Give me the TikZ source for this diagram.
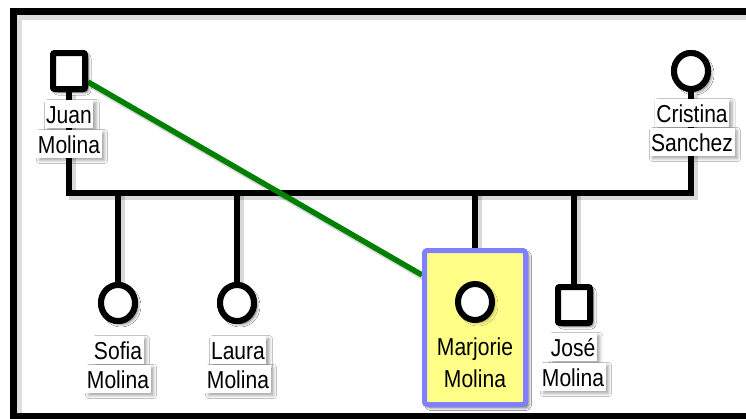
\documentclass[tikz,border=0pt]{standalone}
\usepackage{fontspec}
\setmainfont{Liberation Sans}[FakeStretch=0.86]
\usetikzlibrary{shapes.geometric,shadows.blur,calc}
\definecolor{hlyellow}{RGB}{255,255,136}
\definecolor{hlblue}{RGB}{128,128,255}
\definecolor{linkgreen}{RGB}{0,128,0}
\tikzset{
  soft/.style={blur shadow={shadow xshift=3pt,shadow yshift=-3pt,shadow blur radius=3pt,shadow opacity=35}},
  tree/.style={line width=6pt,black},
  treeshadow/.style={line width=7pt,black,opacity=0.15,transform canvas={shift={(3pt,-3pt)}}},
  male/.style={draw,line width=6pt,fill=white,minimum width=32pt,minimum height=36pt,inner sep=0pt,rounded corners=2pt,soft},
  female/.style={draw,ellipse,line width=6pt,fill=white,minimum width=34pt,minimum height=36pt,inner sep=0pt,soft},
  lab/.style={fill=white,anchor=base,inner xsep=1.5pt,inner ysep=1.5pt,text height=22pt,text depth=3pt,font=\fontsize{24.5}{25}\selectfont,soft},
  labplain/.style={anchor=base,inner sep=0pt,font=\fontsize{24.5}{25}\selectfont},
  hlbox/.style={draw=hlblue,fill=hlyellow,line width=5pt,minimum width=101pt,minimum height=154pt,rounded corners=3pt,soft}
}
\begin{document}
\begin{tikzpicture}[x=1pt,y=-1pt]
\useasboundingbox (0,0) rectangle (746,418);
\clip (0,0) rectangle (746,418);
\fill[white] (0,0) rectangle (746,418);
% frame
\draw[line width=9pt,black!25,opacity=0.5,transform canvas={shift={(4pt,-4pt)}}] (13.5,11.5) rectangle (770,416.5);
\draw[line width=7pt] (13.5,11.5) rectangle (770,416.5);
% coordinates
\coordinate (bar) at (0,193);
% highlight box (behind Marjorie)
\node[hlbox] (mbox) at (475,327.5) {};
% persons
\node[male] (juan) at (69,71) {};
\node[female] (cristina) at (691,71) {};
\node[female] (sofia) at (118,303) {};
\node[female] (laura) at (237,303) {};
\node[female] (marjorie) at (475,302) {};
\node[male] (jose) at (574,305) {};
% tree shadows
\draw[treeshadow] (juan.south) -- (juan.south |- bar) -- (cristina.south |- bar) -- (cristina.south);
\draw[treeshadow] (sofia.north |- bar) -- (sofia.north);
\draw[treeshadow] (laura.north |- bar) -- (laura.north);
\draw[treeshadow] (mbox.north |- bar) -- (mbox.north);
\draw[treeshadow] (jose.north |- bar) -- (jose.north);
% tree lines
\draw[tree] (juan.south) -- (juan.south |- bar) -- (cristina.south |- bar) -- (cristina.south);
\draw[tree] (sofia.north |- bar) -- (sofia.north);
\draw[tree] (laura.north |- bar) -- (laura.north);
\draw[tree] (mbox.north |- bar) -- (mbox.north);
\draw[tree] (jose.north |- bar) -- (jose.north);
% green link
\draw[line width=6.5pt,black,opacity=0.15,transform canvas={shift={(3pt,-3pt)}}] ($(juan.east)+(0,11)$) -- ($(mbox.north west)+(0,27)$);
\draw[line width=5.5pt,linkgreen] ($(juan.east)+(0,11)$) -- ($(mbox.north west)+(0,27)$);
% redraw box and symbols on top
\node[hlbox] at (mbox) {};
\node[male] at (juan) {};
\node[female] at (cristina) {};
\node[female] at (sofia) {};
\node[female] at (laura) {};
\node[female] at (marjorie) {};
\node[male] at (jose) {};
% labels
\node[lab] (juan1) at (69,123) {Juan};
\node[lab] (juan2) at (69,153) {Molina};
\node[lab] (cris1) at (692,122) {Cristina};
\node[lab] (cris2) at (692,151) {Sanchez};
\node[lab] (sofia1) at (118,359) {Sofia};
\node[lab] (sofia2) at (118,388) {Molina};
\node[lab] (laura1) at (238,359) {Laura};
\node[lab] (laura2) at (238,388) {Molina};
\node[labplain] (marj1) at (475,355) {Marjorie};
\node[labplain] (marj2) at (475,387) {Molina};
\node[lab] (jose1) at (573,356) {José};
\node[lab] (jose2) at (573,386) {Molina};
\end{tikzpicture}
\end{document}
